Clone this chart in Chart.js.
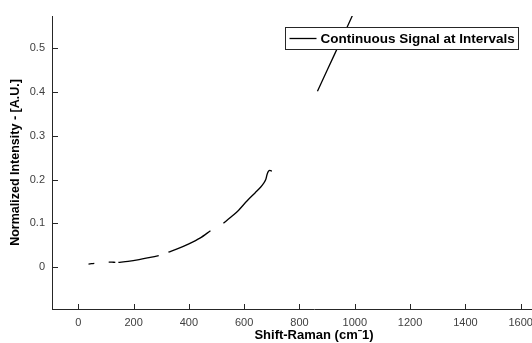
<!DOCTYPE html>
<html>
<head>
<meta charset="utf-8">
<script src="https://cdn.jsdelivr.net/npm/chart.js@4"></script>
<style>
  html, body { margin: 0; padding: 0; background: #fff; overflow: hidden; }
  #wrap { width: 600px; height: 343px; }
</style>
</head>
<body>
<div id="wrap"><canvas id="raman" width="600" height="343"></canvas></div>
<script>
// Raman shift (cm^-1) and normalized intensity; null marks a gap in the signal
const shifts = [
  37, 48, 58, null,
  110, 122, 134, null,
  145, 180, 220, 260, 291, null,
  326, 360, 400, 440, 478, null,
  525, 550, 580, 610, 640, 660, 672, 678, 683, 688, 693, 700, null,
  865, 900, 950, 1000
];
const intensity = [
  0.0068, 0.0076, 0.0084, null,
  0.0114, 0.0111, 0.0107, null,
  0.0107, 0.013, 0.017, 0.022, 0.026, null,
  0.034, 0.042, 0.053, 0.066, 0.083, null,
  0.100, 0.113, 0.130, 0.151, 0.170, 0.183, 0.193, 0.200, 0.212, 0.219, 0.221, 0.219, null,
  0.402, 0.450, 0.518, 0.587
];
const xTickValues = [0, 200, 400, 600, 800, 1000, 1200, 1400, 1600, 1800];
const yTickValues = [0, 0.1, 0.2, 0.3, 0.4, 0.5];
const seriesLabel = 'Continuous Signal at Intervals';

const FONT = 'Arial, "Liberation Sans", sans-serif';
const AXIS_COLOR = '#262626';
const TICK_COLOR = '#404040';

// MATLAB-style ticks pointing into the plot area
const inwardTicks = {
  id: 'inwardTicks',
  afterDatasetsDraw(chart) {
    const { ctx, chartArea, scales } = chart;
    ctx.save();
    ctx.strokeStyle = AXIS_COLOR;
    ctx.lineWidth = 1;
    ctx.beginPath();
    scales.x.ticks.forEach(t => {
      const px = Math.round(scales.x.getPixelForValue(t.value)) + 0.5;
      ctx.moveTo(px, chartArea.bottom);
      ctx.lineTo(px, chartArea.bottom - 5);
    });
    scales.y.ticks.forEach(t => {
      const py = Math.round(scales.y.getPixelForValue(t.value)) + 0.5;
      ctx.moveTo(chartArea.left, py);
      ctx.lineTo(chartArea.left + 6, py);
    });
    ctx.stroke();
    ctx.restore();
  }
};

// Boxed legend sitting on top of the plot, upper right
const boxedLegend = {
  id: 'boxedLegend',
  afterDatasetsDraw(chart) {
    const { ctx } = chart;
    const ds = chart.data.datasets[0];
    const x = 285.5, y = 27.5, w = 233, h = 22;
    ctx.save();
    ctx.fillStyle = '#fff';
    ctx.fillRect(x, y, w, h);
    ctx.strokeStyle = AXIS_COLOR;
    ctx.lineWidth = 1;
    ctx.strokeRect(x, y, w, h);
    ctx.strokeStyle = ds.borderColor;
    ctx.lineWidth = ds.borderWidth;
    ctx.beginPath();
    ctx.moveTo(x + 4, y + h / 2);
    ctx.lineTo(x + 31, y + h / 2);
    ctx.stroke();
    ctx.fillStyle = '#000';
    ctx.font = 'bold 13.5px ' + FONT;
    ctx.textBaseline = 'middle';
    ctx.fillText(ds.label, x + 35, y + h / 2 + 0.5);
    ctx.restore();
  }
};

new Chart(document.getElementById('raman'), {
  type: 'line',
  data: {
    datasets: [{
      label: seriesLabel,
      data: shifts.map((s, i) => ({ x: s, y: intensity[i] })),
      borderColor: '#000',
      borderWidth: 1.3,
      pointRadius: 0,
      tension: 0.3,
      spanGaps: false
    }]
  },
  options: {
    responsive: false,
    animation: false,
    layout: { padding: { top: 16, right: 24, left: 0, bottom: 0 } },
    plugins: {
      legend: { display: false },
      tooltip: { enabled: false }
    },
    scales: {
      x: {
        type: 'linear',
        min: -95,
        max: 1800,
        afterFit(scale) { scale.height = 34; },
        afterBuildTicks(scale) { scale.ticks = xTickValues.map(v => ({ value: v })); },
        grid: { display: true, drawOnChartArea: false, drawTicks: false },
        border: { display: true, color: AXIS_COLOR, width: 1 },
        ticks: {
          padding: 7,
          color: TICK_COLOR,
          font: { family: FONT, size: 11 },
          maxRotation: 0,
          autoSkip: false,
          callback: v => String(v)
        },
        title: {
          display: true,
          text: 'Shift-Raman (cm\u02C91)',
          color: '#000',
          padding: { top: 0, bottom: 0 },
          font: { family: FONT, size: 13, weight: 'bold' }
        }
      },
      y: {
        type: 'linear',
        min: -0.096,
        max: 0.574,
        afterFit(scale) { scale.width = 52; },
        afterBuildTicks(scale) { scale.ticks = yTickValues.map(v => ({ value: v })); },
        grid: { display: true, drawOnChartArea: false, drawTicks: false },
        border: { display: true, color: AXIS_COLOR, width: 1 },
        ticks: {
          padding: 7,
          color: TICK_COLOR,
          font: { family: FONT, size: 11 },
          callback: v => String(v)
        },
        title: {
          display: true,
          text: 'Normalized Intensity - [A.U.]',
          color: '#000',
          padding: { top: 8, bottom: 0 },
          font: { family: FONT, size: 12.5, weight: 'bold' }
        }
      }
    }
  },
  plugins: [inwardTicks, boxedLegend]
});
</script>
</body>
</html>
